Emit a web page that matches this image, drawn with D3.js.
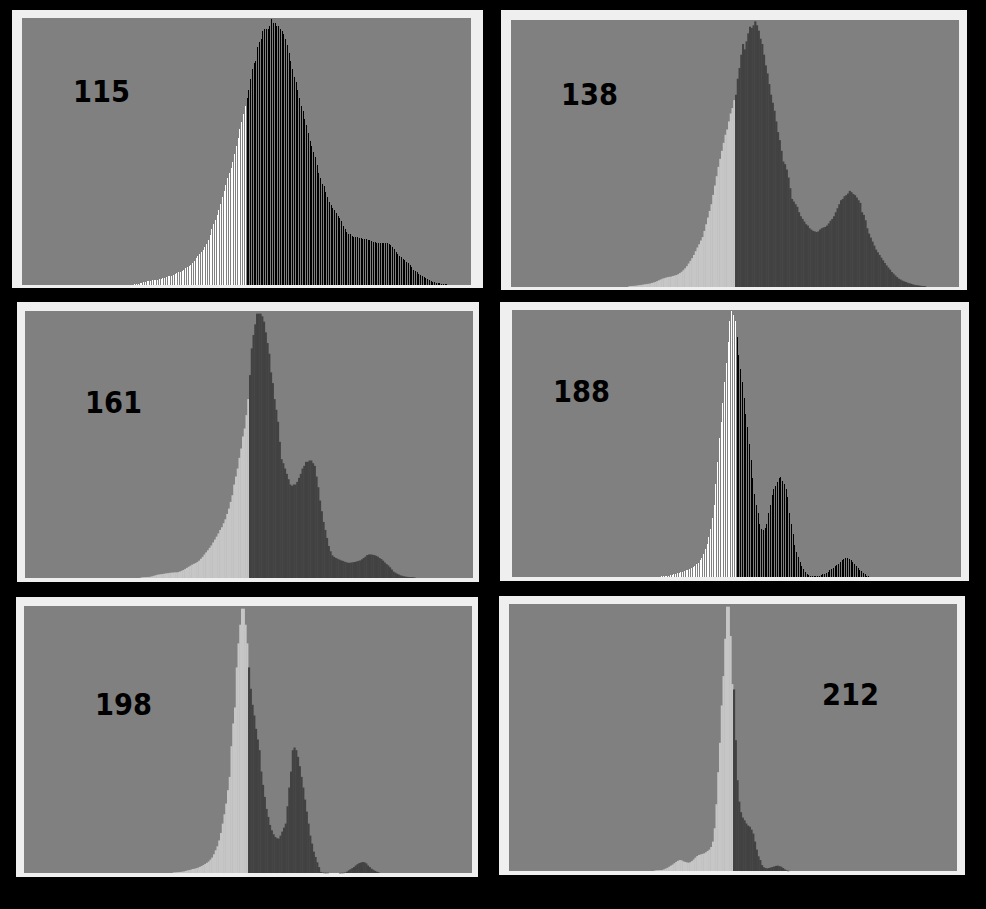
<!DOCTYPE html>
<html>
<head>
<meta charset="utf-8">
<script src="https://cdn.jsdelivr.net/npm/d3@7/dist/d3.min.js"></script>
<style>
  html, body { margin: 0; padding: 0; background: #000; }
  svg { display: block; }
</style>
</head>
<body>
<svg id="chart" width="986" height="909"></svg>
<script>
// ---- DATA ----
// threshold (gray level) shown in each panel
const thresholds = [115, 138, 161, 188, 198, 212];
// first gray level of each stored histogram
const firstLevels = [51, 77, 99, 145, 155, 167];
// histogram heights, % of panel max, one value per gray level
const hist115 = [
  0.3,0.4,0.5,0.6,0.8,1.0,1.2,1.4,
  1.5,1.6,1.7,1.8,1.9,2.0,2.1,2.2,
  2.5,2.8,3.0,3.2,3.3,3.4,3.6,4.0,4.4,4.8,
  5.0,5.4,5.8,6.2,6.6,7.0,7.5,8.2,9.0,10,
  11,11.7,12.4,13,14.2,15.5,16.8,18.8,20.8,22.8,
  24.5,26.2,28,30.5,33,35.3,37.5,40,42,44,
  46,49,52,55,58.5,61,64,67,70,73,
  77,81,83,84,89,91,92,95,96,96,
  96,97,99.5,98,98,97,97,96,95,94,
  92,90,87,84,81,78,76,73,70,67,
  65,62,60,57,54,52,50,48,45,42,
  40,38,37,35,33,31,30,29,28,27,
  26,25,24,22,21,20,19,19,18.5,18,
  18,17.8,17.6,17.5,17.4,17.3,17.2,17,16.8,16.5,
  16.2,16,15.8,15.7,15.6,15.6,15.6,15.6,15.6,15.2,
  14.8,14.2,13.5,12.5,11.5,10.8,10.4,9.8,9.2,8.8,
  8.2,7.4,6.6,5.8,5.2,4.7,4.2,3.7,3.3,2.9,
  2.5,2.2,1.9,1.6,1.3,1.1,0.9,0.8,0.6,0.5,
  0.4,0.3,0.25
];
const hist138 = [
  0.3,0.35,0.4,0.45,0.5,
  0.6,0.7,0.8,0.9,1.0,1.1,1.2,1.3,
  1.5,1.7,1.9,2.2,2.5,2.8,3.1,3.3,3.5,3.7,
  3.8,3.9,4.1,4.3,4.5,4.8,5.2,5.7,6.3,7.0,
  7.8,8.8,9.8,10.8,12,13.4,14.8,16,17.4,18.7,
  21,23.5,26,28.5,31,34.5,38,41.5,45,48,
  51,54,57,59,62,65,67,70,72,78,
  82,87,91,89,92,95,97.5,97,98,99.5,
  98,96,93,91,87,83,80,76,72,69,
  66,62,58,55,51,47,46,44,41,37,
  33,32,31,30,28,26.5,25.5,24.5,23.5,23,
  22,21.5,21,20.8,20.6,20.8,21.5,22,22.3,22.5,
  23,23.8,24.8,25.5,26.5,28,29.5,31,32.5,33,
  34,34.4,35,36,35.5,34.8,34.4,33.5,32.5,31.5,
  28,27,25,22,20,18.5,17,15.5,14,13,
  12,11,10,9,8.1,7.3,6.5,5.6,5,4.3,
  3.7,3.1,2.8,2.4,2.1,1.9,1.6,1.4,1.2,1.0,
  0.8,0.7,0.6,0.5,0.4,0.35,0.3
];
const hist161 = [
  0.2,0.3,0.3,0.35,
  0.4,0.45,0.6,0.8,1.0,1.2,1.3,1.4,1.5,1.6,
  1.7,1.8,1.9,2.0,2.0,2.1,2.1,2.2,2.4,2.7,
  3.0,3.4,3.8,4.2,4.6,5.0,5.3,5.6,6.0,6.5,
  7.2,7.9,8.8,9.6,10.4,11.3,12.2,13.3,14.4,15.5,
  16.7,18,19,20.5,22,24,26,28.5,31,35,
  38,41,45,48.5,53,56,61,67,76,86,
  91,95,99,99,99,98,96,92,88,84,
  77,73,67,63,58.5,51,44.5,43,41,39,
  37,35,34.5,35,35,36,37.5,39,41,42,
  43.5,43.5,44,44,43,42,38,34,29,25,
  21,18,15,12,10,8.5,7.9,7.5,7.2,6.9,
  6.6,6.4,6.1,5.9,5.7,5.7,5.8,5.9,6.0,6.2,
  6.4,6.6,7.0,7.5,8.0,8.6,8.8,8.8,8.7,8.6,
  8.3,8.0,7.5,7.1,6.5,5.8,5.2,4.7,4.0,3.2,
  2.4,2.0,1.6,1.3,1.0,0.8,0.6,0.5,0.4,0.35,
  0.3,0.3,0.2
];
const hist188 = [
  0.2,0.25,0.3,0.35,0.4,
  0.6,0.8,1.0,1.2,1.4,1.6,1.8,2.0,2.2,2.5,
  2.8,3.1,3.5,3.9,4.3,4.8,5.4,6.2,7.2,8.5,
  10.5,12.5,15,18,22,27,35,43,52,58,
  65,73,80,88,96,99.5,98,96,90,83,
  78,73,67,61,56,50,44,37,31,27,
  24,20,18,17.5,18.5,20,24,27,30.6,33,
  34,35.5,37,37.5,36,35,33,30,24,20,
  16,12,9.5,7.5,5.6,4.2,3.1,2.0,1.2,0.8,
  0.5,0.4,0.3,0.25,0.3,0.5,0.8,1.0,1.3,1.6,
  2.0,2.5,3.0,3.5,4.0,4.4,5.0,5.8,6.5,6.8,
  7.0,7.1,6.8,6.2,5.6,5.0,4.2,3.5,2.8,2.2,
  1.5,1.0,0.5,0.3
];
const hist198 = [
  0.2,0.25,0.3,0.35,0.4,
  0.5,0.6,0.8,1.0,1.1,1.3,1.5,1.6,1.8,2.0,
  2.3,2.6,3.0,3.4,3.8,4.3,5.0,5.8,7.0,8.5,
  10,12.2,15,18.5,22,26,31,36,47.5,56,
  62,77,86,93,99,99,93,86,77,69,
  63,59,54,50,46,38,33,28.5,24,21,
  18,16,14.5,13.5,13,12.9,14,15.5,17,18.5,
  25,32,38,46,47,46,43.5,40,36,32,
  27.5,23,18.5,14,11,8,6,4,2.2,0.4,
  0.2,0.1,0.1,0.1,0,0,0,0,0,0,
  0.05,0.1,0.1,0.2,0.5,1.0,1.4,1.8,2.2,2.8,
  3.3,3.7,3.9,4.1,4.0,3.6,2.8,2.2,1.6,1.2,
  0.8,0.5,0.3
];
const hist212 = [
  0.2,0.25,0.3,0.35,0.4,0.6,0.9,
  1.2,1.6,2.0,2.4,2.9,3.4,3.8,4.1,4.0,3.6,
  3.4,3.2,3.1,3.3,3.7,4.3,5.0,5.6,6.0,6.2,
  6.4,6.6,7.0,7.5,8.0,9.0,11,16,25,37,
  48,62,73,87,99,99,88,70,68,49,
  34,26,22,20,19,17.8,17,16.6,15.5,14,
  11,8,5.5,4.1,2.2,1.4,1.1,1.0,1.1,1.3,
  1.5,1.7,1.9,2.0,1.8,1.6,1.1,0.6,0.3,0.1
];
const histograms = [hist115, hist138, hist161, hist188, hist198, hist212];
// which panels use the high-contrast striped rendering (white / black)
const stripedPanels = [true, false, false, true, false, false];

// ---- LAYOUT (not data) ----
const layout = [
  {outer:[12,10,483,288],  inner:[22,18,471,285],  label:[73,102]},
  {outer:[501,10,967,290], inner:[511,20,959,287], label:[561,105]},
  {outer:[17,302,479,582], inner:[25,311,473,578], label:[85,413]},
  {outer:[500,302,969,581],inner:[512,310,961,577],label:[553,402]},
  {outer:[16,597,478,877], inner:[24,606,472,873], label:[95,715]},
  {outer:[499,596,965,875],inner:[509,604,957,871],label:[822,705]}
];

const svg = d3.select("#chart");
svg.append("rect").attr("width", 986).attr("height", 909).attr("fill", "#000");

thresholds.forEach((t, p) => {
  const L = layout[p];
  const [ox0, oy0, ox1, oy1] = L.outer;
  const [ix0, iy0, ix1, iy1] = L.inner;
  const g = svg.append("g");

  g.append("rect").attr("x", ox0).attr("y", oy0)
    .attr("width", ox1 - ox0).attr("height", oy1 - oy0).attr("fill", "#efefef");
  g.append("rect").attr("x", ix0).attr("y", iy0)
    .attr("width", ix1 - ix0).attr("height", iy1 - iy0).attr("fill", "#808080");

  const levels = d3.range(t - 128, t + 128);
  const x = d3.scaleBand().domain(levels).range([ix0, ix1]).padding(0);
  const y = d3.scaleLinear().domain([0, 100]).range([iy1, iy0]);

  const data = histograms[p].map((v, i) => ({level: firstLevels[p] + i, value: v}));
  const striped = stripedPanels[p];
  const lightCol = striped ? "#ffffff" : "#c6c6c6";
  const darkCol  = striped ? "#000000" : "#424242";
  const bw = striped ? 1 : x.bandwidth() + 0.4;

  g.append("g").selectAll("rect").data(data.filter(d => d.value > 0)).join("rect")
    .attr("x", d => x(d.level))
    .attr("y", d => y(d.value))
    .attr("width", bw)
    .attr("height", d => Math.max(0.5, y(0) - y(d.value)))
    .attr("fill", d => d.level < t ? lightCol : darkCol)
    .attr("shape-rendering", striped ? "crispEdges" : "auto");

  g.append("text")
    .attr("x", L.label[0]).attr("y", L.label[1])
    .attr("font-family", "'DejaVu Sans', sans-serif")
    .attr("font-weight", "bold")
    .attr("font-size", 31)
    .attr("textLength", 57)
    .attr("lengthAdjust", "spacingAndGlyphs")
    .attr("fill", "#000")
    .text(String(t));
});
</script>
</body>
</html>
